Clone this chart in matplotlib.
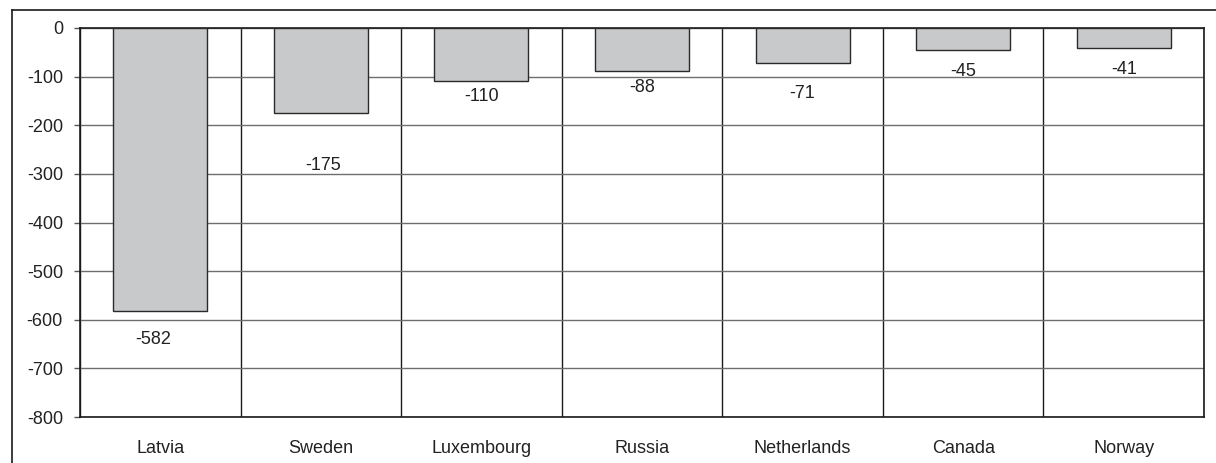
import matplotlib
matplotlib.use("Agg")
import matplotlib.pyplot as plt
from matplotlib.lines import Line2D
import numpy as np

plt.rcParams['font.family'] = ['Liberation Sans', 'DejaVu Sans']

countries = ["Latvia", "Sweden", "Luxembourg", "Russia", "Netherlands", "Canada", "Norway"]
values = [-582, -175, -110, -88, -71, -45, -41]
y_ticks = [0, -100, -200, -300, -400, -500, -600, -700, -800]

# hand-placed label offsets (pixels) below each bar end
label_offsets = [(-7, -29), (2, -52), (0, -15), (0, -17), (0, -31), (0, -22), (0, -22)]

fig = plt.figure(figsize=(12.16, 4.63), dpi=100)
ax = fig.add_axes([80 / 1216, 1 - 417 / 463, 1124 / 1216, 389 / 463])

x = np.arange(len(countries))
ax.bar(x, values, width=0.585, color="#c8c9cb", edgecolor="#2a2a2a", linewidth=1.0, zorder=3)

for xi, v, (dx, dy) in zip(x, values, label_offsets):
    ax.annotate(str(v), xy=(xi, v), xytext=(dx, dy), textcoords="offset pixels",
                ha="center", va="center", fontsize=13, color="#222222", zorder=4)

ax.set_xlim(-0.5, len(countries) - 0.5)
ax.set_ylim(-800, 0)
ax.set_yticks(y_ticks)
ax.set_yticklabels([str(t) for t in y_ticks])
ax.set_xticks(x)
ax.set_xticklabels(countries)
ax.set_xticks(np.arange(len(countries) + 1) - 0.5, minor=True)

ax.tick_params(axis="y", length=4.3, width=1, color="#555555", pad=8, labelsize=13, labelcolor="#222222")
ax.tick_params(axis="x", which="major", length=0, pad=16.5, labelsize=13, labelcolor="#222222")
ax.tick_params(axis="x", which="minor", length=0)

ax.grid(axis="y", which="major", color="#6e6e6e", linewidth=1.0, zorder=1)
ax.grid(axis="x", which="minor", color="#1a1a1a", linewidth=1.0, zorder=1)
ax.set_axisbelow(True)

for side in ["left", "right", "top", "bottom"]:
    ax.spines[side].set_color("#1a1a1a")
    ax.spines[side].set_linewidth(1.2)

# outer chart frame (left and top edges)
fig.add_artist(Line2D([12 / 1216, 12 / 1216], [0, 1 - 9.5 / 463], transform=fig.transFigure,
                      color="#1a1a1a", linewidth=1.2))
fig.add_artist(Line2D([12 / 1216, 1], [1 - 9.5 / 463, 1 - 9.5 / 463], transform=fig.transFigure,
                      color="#1a1a1a", linewidth=1.2))

fig.savefig("out.png", dpi=100, facecolor="white")
